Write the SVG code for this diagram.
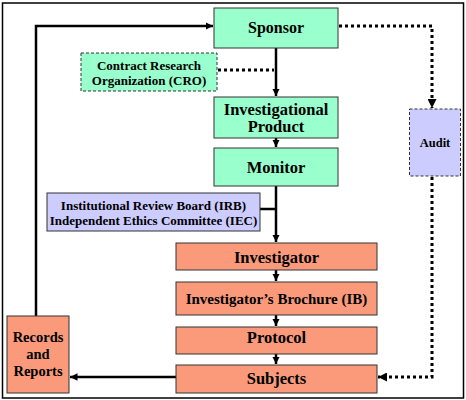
<svg xmlns="http://www.w3.org/2000/svg" width="466" height="400" viewBox="0 0 466 400">
<style>
.g{fill:#99ffcc;stroke:#333;stroke-width:1}
.s{fill:#fa9a7a;stroke:#333;stroke-width:1}
.l{fill:#ccccff;stroke:#333;stroke-width:1}
.d{stroke-dasharray:3 2}
text{font-family:"Liberation Serif","Times New Roman",serif;font-weight:bold;fill:#000;text-anchor:middle}
.c{stroke:#000;stroke-width:2.5;fill:none}
.t{stroke:#000;stroke-width:3;fill:none;stroke-dasharray:3 3}
</style>
<defs>
<marker id="a" viewBox="0 0 10 10" refX="10" refY="5" markerWidth="3" markerHeight="3" markerUnits="strokeWidth" orient="auto">
<path d="M0,0 L10,5 L0,10 z" fill="#000"/>
</marker>
</defs>
<rect x="2.5" y="3" width="461" height="395" fill="#fff" stroke="#000" stroke-width="1.5"/>
<g id="connectors">
<path class="c" d="M36,316 V26 H213" marker-end="url(#a)"/>
<path class="c" d="M276,48 V96" marker-end="url(#a)"/>
<path class="t" d="M218,70 H274"/>
<path class="c" d="M276,138 V147" marker-end="url(#a)"/>
<path class="c" d="M276,186 V242" marker-end="url(#a)"/>
<path class="c" d="M260,209 H276"/>
<path class="c" d="M276,270 V281" marker-end="url(#a)"/>
<path class="c" d="M276,315 V326" marker-end="url(#a)"/>
<path class="c" d="M276,354 V364" marker-end="url(#a)"/>
<path class="c" d="M176,377 H70" marker-end="url(#a)"/>
<path class="t" d="M339,26 H432 V108" marker-end="url(#a)"/>
<path class="t" d="M432,177 V377 H378" marker-end="url(#a)"/>
</g>
<g id="sponsor"><rect class="g" x="214" y="8" width="124" height="40"/><text x="276" y="33" font-size="16">Sponsor</text></g>
<g id="cro"><rect class="g d" x="81" y="53" width="136" height="38"/><text x="149" y="69.5" font-size="13">Contract Research</text><text x="149" y="85" font-size="13">Organization (CRO)</text></g>
<g id="product"><rect class="g" x="214" y="97" width="124" height="41"/><text x="276" y="114.5" font-size="16.5">Investigational</text><text x="276" y="132" font-size="16.5">Product</text></g>
<g id="monitor"><rect class="g" x="214" y="148" width="124" height="38"/><text x="276" y="173" font-size="16.5">Monitor</text></g>
<g id="irb"><rect class="l" x="47" y="193" width="213" height="38"/><text x="153.5" y="210" font-size="13">Institutional  Review Board (IRB)</text><text x="153.5" y="224.5" font-size="13">Independent Ethics Committee (IEC)</text></g>
<g id="audit"><rect class="l d" x="409.5" y="109" width="51" height="67"/><text x="435" y="147" font-size="12.5">Audit</text></g>
<g id="investigator"><rect class="s" x="176" y="243" width="201" height="27"/><text x="276.5" y="263" font-size="16.5">Investigator</text></g>
<g id="brochure"><rect class="s" x="176" y="282" width="201" height="33"/><text x="276.5" y="304" font-size="15">Investigator’s Brochure (IB)</text></g>
<g id="protocol"><rect class="s" x="176" y="327" width="201" height="27"/><text x="276.5" y="343" font-size="16.5">Protocol</text></g>
<g id="subjects"><rect class="s" x="176" y="365" width="201" height="28"/><text x="276.5" y="384" font-size="16.5">Subjects</text></g>
<g id="records"><rect class="s" x="7" y="316" width="62" height="77"/><text x="38" y="342" font-size="14.5">Records</text><text x="38" y="359" font-size="14.5">and</text><text x="38" y="376" font-size="14.5">Reports</text></g>
</svg>
